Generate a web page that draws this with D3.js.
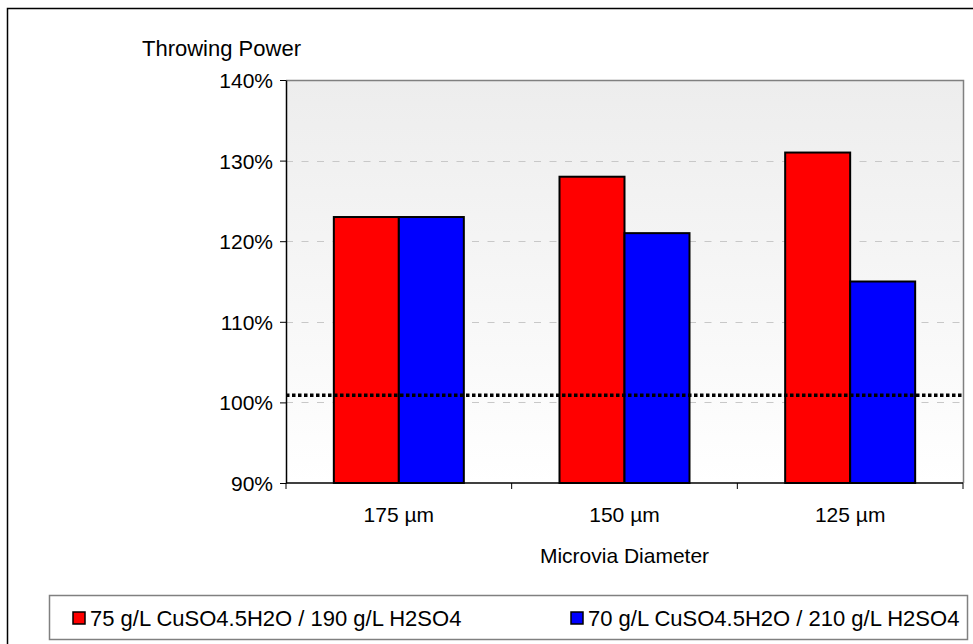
<!DOCTYPE html>
<html><head><meta charset="utf-8">
<script src="https://cdn.jsdelivr.net/npm/d3@7"></script>
<style>body{margin:0;background:#fff;} svg{display:block;font-family:"Liberation Sans",Arial,sans-serif;}</style>
</head><body>
<script>
const categories = ["175 µm", "150 µm", "125 µm"];
const seriesNames = ["75 g/L CuSO4.5H2O / 190 g/L H2SO4", "70 g/L CuSO4.5H2O / 210 g/L H2SO4"];
const series1 = [1.23, 1.28, 1.31];
const series2 = [1.23, 1.21, 1.15];
const yTicks = [0.9, 1.0, 1.1, 1.2, 1.3, 1.4];
const referenceLine = 1.009;
const colors = ["#ff0000", "#0000ff"];

const W = 973, H = 644;
const plot = {left: 286, right: 963, top: 80, bottom: 483};
const svg = d3.select("body").append("svg").attr("width", W).attr("height", H);

const defs = svg.append("defs");
const grad = defs.append("linearGradient").attr("id", "bg").attr("x1", 0).attr("y1", 0).attr("x2", 0).attr("y2", 1);
grad.append("stop").attr("offset", "0%").attr("stop-color", "#ededed");
grad.append("stop").attr("offset", "100%").attr("stop-color", "#ffffff");

// outer border
svg.append("rect").attr("x", 7.5).attr("y", 8.5).attr("width", 1000).attr("height", 700)
  .attr("fill", "none").attr("stroke", "#000").attr("stroke-width", 1.5);

const x = d3.scaleBand().domain(categories).range([plot.left, plot.right]).paddingInner(0).paddingOuter(0);
const y = d3.scaleLinear().domain([0.9, 1.4]).range([plot.bottom, plot.top]);
const sub = d3.scaleBand().domain([0, 1]).range([0, 130]);
const groupOffset = (x.bandwidth() - 130) / 2;

// plot background
svg.append("rect").attr("x", plot.left).attr("y", plot.top).attr("width", plot.right - plot.left)
  .attr("height", plot.bottom - plot.top).attr("fill", "url(#bg)");

// gridlines
svg.append("g").selectAll("line").data(yTicks.filter(t => t > 0.9 && t < 1.4)).join("line")
  .attr("x1", plot.left).attr("x2", plot.right)
  .attr("y1", d => Math.round(y(d)) + 0.5).attr("y2", d => Math.round(y(d)) + 0.5)
  .attr("stroke", "#c8c8c8").attr("stroke-width", 1.2).attr("stroke-dasharray", "7,8.5");

// plot border top/right
svg.append("path").attr("d", `M${plot.left},${plot.top + 0.5}H${plot.right + 0.5}V${plot.bottom}`)
  .attr("fill", "none").attr("stroke", "#808080").attr("stroke-width", 1.5);

// bars
const data = categories.map((c, i) => ({c, v: [series1[i], series2[i]]}));
const g = svg.append("g");
data.forEach(d => {
  d.v.forEach((v, k) => {
    g.append("rect")
      .attr("x", x(d.c) + groupOffset + sub(k))
      .attr("y", y(v))
      .attr("width", sub.bandwidth())
      .attr("height", y(0.9) - y(v))
      .attr("fill", colors[k]).attr("stroke", "#000").attr("stroke-width", 2);
  });
});

// reference dotted line
svg.append("line").attr("x1", plot.left).attr("x2", plot.right)
  .attr("y1", y(referenceLine)).attr("y2", y(referenceLine))
  .attr("stroke", "#000").attr("stroke-width", 3.5).attr("stroke-dasharray", "3.5,2.5");

// y axis
const yAxis = d3.axisLeft(y).tickValues(yTicks).tickFormat(d3.format(".0%")).tickSize(6).tickSizeOuter(0);
const ya = svg.append("g").attr("transform", `translate(${plot.left},0)`).call(yAxis);
ya.select(".domain").attr("stroke", "#000").attr("stroke-width", 1.5);
ya.selectAll(".tick line").attr("stroke", "#000").attr("stroke-width", 1);
ya.selectAll(".tick text").attr("font-size", 21).attr("fill", "#000").attr("x", -13).attr("dy", "0.36em")
  .attr("font-family", "Liberation Sans, Arial, sans-serif");

// x axis
const xa = svg.append("g").attr("transform", `translate(0,${plot.bottom})`);
xa.append("line").attr("x1", plot.left).attr("x2", plot.right).attr("stroke", "#000").attr("stroke-width", 1.5);
const bounds = [plot.left].concat(categories.map(c => x(c) + x.bandwidth()));
xa.selectAll(".bt").data(bounds).join("line").attr("class", "bt")
  .attr("x1", d => d).attr("x2", d => d).attr("y1", 0).attr("y2", 6).attr("stroke", "#000");
xa.selectAll(".lbl").data(categories).join("text").attr("class", "lbl")
  .attr("x", d => x(d) + x.bandwidth() / 2).attr("y", 39)
  .attr("text-anchor", "middle").attr("font-size", 21).text(d => d);

// titles
svg.append("text").attr("x", 142).attr("y", 56).attr("font-size", 22).text("Throwing Power");
svg.append("text").attr("x", (plot.left + plot.right) / 2).attr("y", 563).attr("text-anchor", "middle")
  .attr("font-size", 21).text("Microvia Diameter");

// legend
const lg = svg.append("g");
lg.append("rect").attr("x", 49.5).attr("y", 595.5).attr("width", 918).attr("height", 44)
  .attr("fill", "#fff").attr("stroke", "#808080").attr("stroke-width", 1.5);
const legendX = [73, 571];
seriesNames.forEach((n, k) => {
  lg.append("rect").attr("x", legendX[k]).attr("y", 612).attr("width", 12).attr("height", 12)
    .attr("fill", colors[k]).attr("stroke", "#000").attr("stroke-width", 1.5);
  lg.append("text").attr("x", legendX[k] + 17).attr("y", 626).attr("font-size", 22).text(n);
});
</script>
</body></html>
